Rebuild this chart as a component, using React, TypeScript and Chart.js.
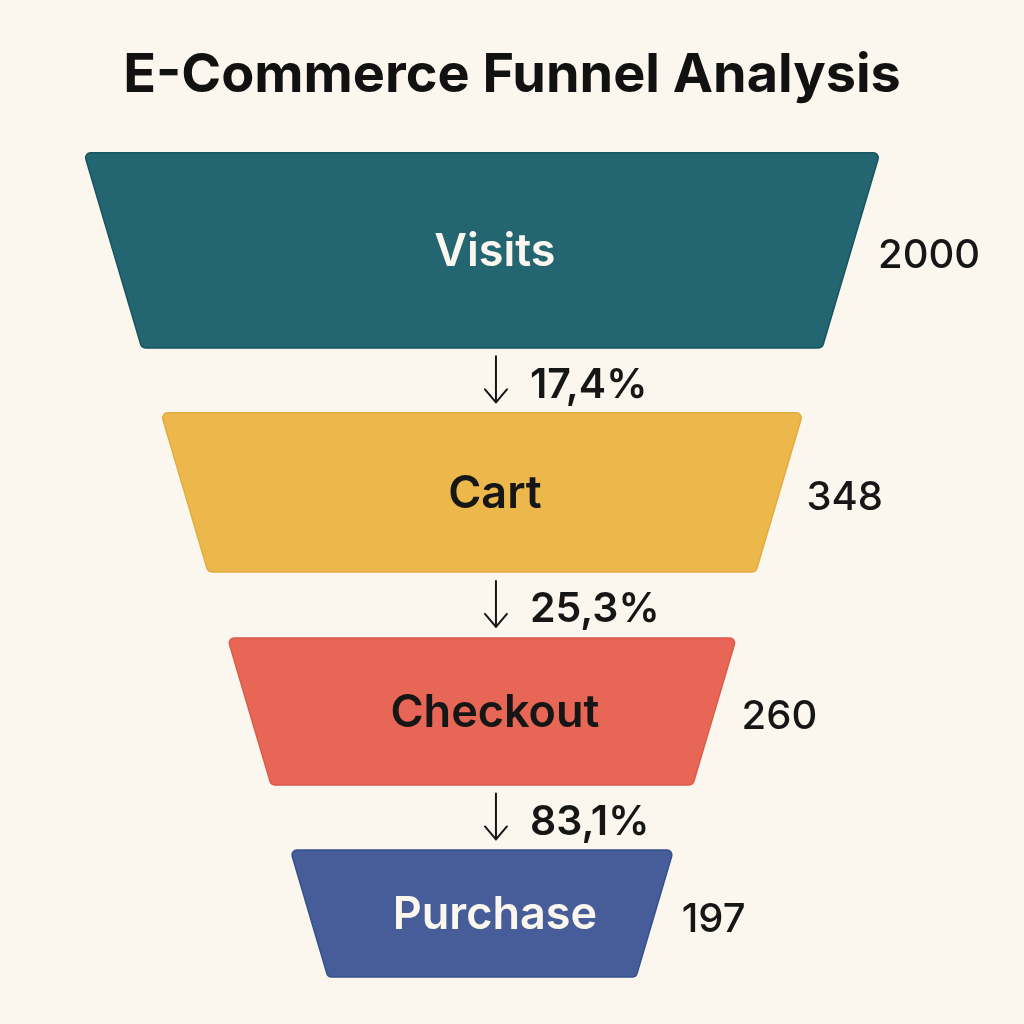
import React, { useEffect, useRef } from "react";
import { Chart, registerables } from "chart.js";

Chart.register(...registerables);

// ---- data ----
const STAGES = ["Visits", "Cart", "Checkout", "Purchase"];
const COUNTS = [2000, 348, 260, 197];
const STEP_RATES = ["17,4%", "25,3%", "83,1%"];
const TITLE = "E-Commerce Funnel Analysis";

// ---- styles ----
const FILL_COLORS = ["#236570", "#ecb84b", "#e76656", "#465d99"];
const EDGE_COLORS = ["#175561", "#e2ad40", "#dc5a4a", "#36508e"];
const LABEL_COLORS = ["#fbf7ee", "#161616", "#161616", "#fbf7ee"];
const BG = "#fbf7ee";
const INK = "#161616";
const FONT = "Inter, 'Open Sans', sans-serif";

// ---- layout (funnel geometry in axis units: y = depth 0..1, x = half-width) ----
const STAGE_SPANS: [number, number][] = [
  [0, 0.2367],
  [0.3155, 0.5085],
  [0.5886, 0.767],
  [0.8459, 1],
];
const TOP_HALF_WIDTH = 1;
const BOTTOM_HALF_WIDTH = 0.387;
const X_MIN = -1.211;
const X_MAX = 1.362;

const halfWidthAt = (t: number) =>
  TOP_HALF_WIDTH - (TOP_HALF_WIDTH - BOTTOM_HALF_WIDTH) * t;

function roundedPoly(ctx: CanvasRenderingContext2D, pts: [number, number][], r: number) {
  const n = pts.length;
  ctx.beginPath();
  for (let i = 0; i < n; i++) {
    const p0 = pts[(i - 1 + n) % n];
    const p1 = pts[i];
    const p2 = pts[(i + 1) % n];
    const mx = (p0[0] + p1[0]) / 2;
    const my = (p0[1] + p1[1]) / 2;
    if (i === 0) ctx.moveTo(mx, my);
    ctx.arcTo(p1[0], p1[1], p2[0], p2[1], r);
  }
  ctx.closePath();
}

const funnelPlugin = {
  id: "funnelPlugin",
  afterDatasetsDraw(chart: any) {
    const ctx: CanvasRenderingContext2D = chart.ctx;
    const xs = chart.scales.x;
    const ys = chart.scales.y;
    const cx = xs.getPixelForValue(0);
    ctx.save();
    STAGES.forEach((name, i) => {
      const [t0, t1] = STAGE_SPANS[i];
      const y0 = ys.getPixelForValue(t0);
      const y1 = ys.getPixelForValue(t1);
      const h0 = halfWidthAt(t0);
      const h1 = halfWidthAt(t1);
      const pts: [number, number][] = [
        [xs.getPixelForValue(-h0), y0],
        [xs.getPixelForValue(h0), y0],
        [xs.getPixelForValue(h1), y1],
        [xs.getPixelForValue(-h1), y1],
      ];
      roundedPoly(ctx, pts, 5);
      ctx.fillStyle = FILL_COLORS[i];
      ctx.fill();
      ctx.lineWidth = 1.5;
      ctx.strokeStyle = EDGE_COLORS[i];
      ctx.stroke();

      const tm = (t0 + t1) / 2;
      const ym = ys.getPixelForValue(tm);
      // stage name
      ctx.fillStyle = LABEL_COLORS[i];
      ctx.font = `600 45px ${FONT}`;
      ctx.textAlign = "center";
      ctx.textBaseline = "middle";
      ctx.fillText(name, cx + 13, ym + 2);
      // count
      ctx.fillStyle = INK;
      ctx.font = `500 40px ${FONT}`;
      ctx.textAlign = "left";
      ctx.fillText(String(COUNTS[i]), xs.getPixelForValue(halfWidthAt(tm)) + 27, ym + 6);

      // step rate between this stage and the next
      if (i < STEP_RATES.length) {
        const tn = STAGE_SPANS[i + 1][0];
        const yg = (y1 + ys.getPixelForValue(tn)) / 2;
        const ax = cx + 14;
        ctx.strokeStyle = INK;
        ctx.lineWidth = 2;
        ctx.lineCap = "round";
        ctx.lineJoin = "round";
        ctx.beginPath();
        ctx.moveTo(ax, yg - 24);
        ctx.lineTo(ax, yg + 22);
        ctx.moveTo(ax - 11, yg + 9);
        ctx.lineTo(ax, yg + 22);
        ctx.lineTo(ax + 11, yg + 9);
        ctx.stroke();
        ctx.fillStyle = INK;
        ctx.font = `600 41px ${FONT}`;
        ctx.textAlign = "left";
        ctx.fillText(STEP_RATES[i], cx + 48, yg + 5);
      }
    });
    ctx.restore();
  },
};

export default function App() {
  const ref = useRef<HTMLCanvasElement | null>(null);
  useEffect(() => {
    if (!ref.current) return;
    const chart = new Chart(ref.current, {
      type: "scatter",
      data: {
        datasets: [
          {
            label: "Stages",
            data: STAGES.map((_, i) => ({
              x: 0,
              y: (STAGE_SPANS[i][0] + STAGE_SPANS[i][1]) / 2,
            })),
            pointRadius: 0,
            pointHoverRadius: 0,
          },
        ],
      },
      options: {
        animation: false,
        responsive: false,
        maintainAspectRatio: false,
        events: [],
        layout: { padding: { left: 0, right: 0, top: 0, bottom: 47 } },
        scales: {
          x: { type: "linear", min: X_MIN, max: X_MAX, display: false },
          y: { type: "linear", min: 0, max: 1, reverse: true, display: false },
        },
        plugins: {
          legend: { display: false },
          tooltip: { enabled: false },
          title: {
            display: true,
            text: TITLE,
            color: "#111111",
            font: { family: FONT, size: 54, weight: "bold", lineHeight: 1.2 },
            padding: { top: 43, bottom: 45 },
          },
        },
      },
      plugins: [funnelPlugin],
    });
    return () => chart.destroy();
  }, []);
  return (
    <div style={{ position: "fixed", left: 0, top: 0, width: 1024, height: 1024, background: BG }}>
      <canvas ref={ref} width={1024} height={1024} style={{ width: 1024, height: 1024 }} />
    </div>
  );
}
